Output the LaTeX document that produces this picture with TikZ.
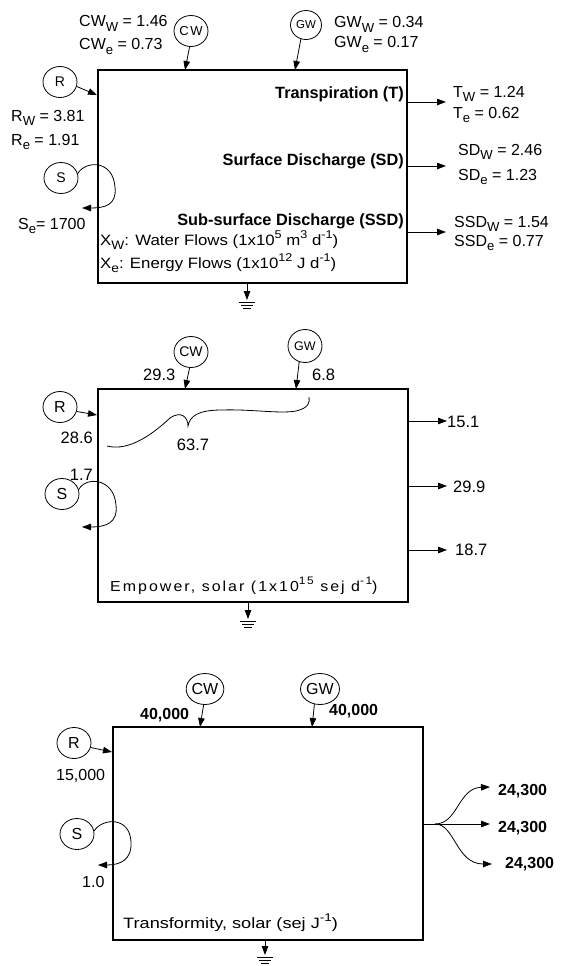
\documentclass[tikz,border=0pt]{standalone}
\usepackage{fontspec}
\usepackage{graphicx}
\setmainfont{Liberation Sans}
\newfontfamily\widefont{Liberation Sans}[FakeStretch=1.12]
\newfontfamily\trffont{Liberation Sans}[FakeStretch=1.21]
\newfontfamily\spacedfont{Liberation Sans}[LetterSpace=14,FakeStretch=1.1]
\usetikzlibrary{arrows.meta,shapes.geometric,calc}
\newcommand{\sbs}[1]{\raisebox{-0.55ex}{\scalebox{0.82}{#1}}}
\newcommand{\sps}[1]{\raisebox{0.8ex}{\scalebox{0.75}{#1}}}
\tikzset{
  src/.style={draw, ellipse, inner sep=0pt, minimum width=34pt, minimum height=31pt, line width=0.8pt, font=\fontsize{14}{14}\selectfont},
  lbl/.style={inner sep=0pt, anchor=base west, font=\fontsize{16}{16}\selectfont},
  head/.style={inner sep=0pt, anchor=base east, font=\fontsize{16.3}{16}\selectfont\bfseries},
  numtwo/.style={inner sep=0pt, anchor=base west, font=\fontsize{16.5}{16}\selectfont},
  numthree/.style={inner sep=0pt, anchor=base west, font=\fontsize{16}{16}\selectfont\bfseries},
  arr/.style={-{Triangle[length=9pt,width=6.5pt]}, line width=0.8pt},
  boxthin/.style={draw, inner sep=0pt, line width=1.1pt},
  boxthick/.style={draw, inner sep=0pt, line width=2.4pt},
}
\begin{document}
\begin{tikzpicture}[x=1pt,y=-1pt]
\useasboundingbox (0,0) rectangle (568,966);

% ================= Panel 1 =================
\node[boxthin, minimum width=309pt, minimum height=213pt] (b1) at (252.5,176.5) {};
\node[src, font=\fontsize{13}{13}\selectfont] (cw1) at (191,31) {C\kern1.5pt W};
\node[src, minimum width=31pt, minimum height=29pt, font=\fontsize{11.5}{11.5}\selectfont] (gw1) at (306,25) {GW};
\node[src] (r1) at (60,82) {R};
\node[src] (s1) at (61,178) {S};

\coordinate (b1cw) at (185,70);
\coordinate (b1gw) at (295,70);
\coordinate (b1r) at (97,95);
\coordinate (s1tip) at (82,208);
\draw[arr] (cw1.265) -- (b1cw);
\draw[arr] (gw1.250) -- (b1gw);
\draw[arr] (r1.-15) -- (b1r);
\draw[arr] (s1.15) .. controls (86,160) and (113,160) .. (115,187)
  .. controls (117,205) and (105,208) .. (s1tip);

\node[lbl] (cwl1) at (79,27) {CW\sbs{W} = 1.46};
\node[lbl] (cwl2) at (79,50) {CW\sbs{e} = 0.73};
\node[lbl] (gwl1) at (334,28) {GW\sbs{W} = 0.34};
\node[lbl] (gwl2) at (334,48) {GW\sbs{e} = 0.17};
\node[lbl] (rl1) at (11,121) {R\sbs{W} = 3.81};
\node[lbl] (rl2) at (11,145) {R\sbs{e} = 1.91};
\node[lbl] (sl1) at (18,229) {S\sbs{e}= 1700};

\node[head] (hT) at (404,99) {Transpiration (T)};
\node[head] (hSD) at (404,165) {Surface Discharge (SD)};
\node[head] (hSSD) at (404,225) {Sub-surface Discharge (SSD)};
\node[lbl, font=\fontsize{15}{15}\widefont] (xw) at (100,245) {X\sbs{W}: Water Flows (1x10\sps{5} m\sps{3} d\sps{-1})};
\node[lbl, font=\fontsize{15}{15}\widefont] (xe) at (100,268) {X\sbs{e}: Energy Flows (1x10\sps{12} J d\sps{-1})};

\coordinate (b1o1) at (407,102);
\coordinate (b1o2) at (407,166);
\coordinate (b1o3) at (407,232);
\coordinate (o1e) at (446,102);
\coordinate (o2e) at (446,166);
\coordinate (o3e) at (446,232);
\draw[arr] (b1o1) -- (o1e);
\draw[arr] (b1o2) -- (o2e);
\draw[arr] (b1o3) -- (o3e);

\node[lbl] (tl1) at (453,97) {T\sbs{W} = 1.24};
\node[lbl] (tl2) at (453,118) {T\sbs{e} = 0.62};
\node[lbl] (sdl1) at (458,155) {SD\sbs{W} = 2.46};
\node[lbl] (sdl2) at (458,180) {SD\sbs{e} = 1.23};
\node[lbl] (ssdl1) at (454,227) {SSD\sbs{W} = 1.54};
\node[lbl] (ssdl2) at (454,246) {SSD\sbs{e} = 0.77};

\coordinate (g1a) at (247,283);
\coordinate (g1b) at (247,300);
\draw[arr] (g1a) -- (g1b);
\draw[line width=0.7pt] (239,302) -- (255,302) (241,305) -- (253,305) (243,308) -- (251,308);

% ================= Panel 2 =================
\node[boxthick, minimum width=310pt, minimum height=213pt] (b2) at (253,495.5) {};
\node[src] (cw2) at (191,352) {CW};
\node[src, minimum width=34pt, minimum height=33pt, font=\fontsize{12.5}{12.5}\selectfont] (gw2) at (305,346) {GW};
\node[src, font=\fontsize{16}{16}\selectfont] (r2) at (60,407) {R};
\node[src, font=\fontsize{16}{16}\selectfont] (s2) at (62,494) {S};

\coordinate (b2cw) at (185,389);
\coordinate (b2gw) at (296,389);
\coordinate (b2r) at (97,415);
\coordinate (s2tip) at (82,527);
\draw[arr] (cw2.265) -- (b2cw);
\draw[arr] (gw2.250) -- (b2gw);
\draw[arr] (r2.-15) -- (b2r);
\draw[arr] (s2.15) .. controls (86,476) and (114,478) .. (116,505)
  .. controls (118,523) and (106,527) .. (s2tip);

\node[numtwo] (n293) at (143,380) {29.3};
\node[numtwo] (n68) at (312,380) {6.8};
\node[numtwo, anchor=base east] (n286) at (93,443) {28.6};
\node[numtwo, anchor=base east] (n17) at (93,480) {1.7};
\node[numtwo, anchor=base] (n637) at (193,450) {63.7};

\draw[line width=0.8pt] (107,446) .. controls (130,452) and (155,432) .. (170,418)
  .. controls (182,410) and (188,418) .. (188,426)
  .. controls (190,416) and (198,410) .. (222,410)
  .. controls (250,409) and (280,414) .. (296,411)
  .. controls (309,408) and (310,402) .. (309,397);

\coordinate (b2o1) at (408,421);
\coordinate (b2o2) at (408,486);
\coordinate (b2o3) at (408,550);
\coordinate (p1e) at (447,421);
\coordinate (p2e) at (447,486);
\coordinate (p3e) at (447,550);
\draw[arr] (b2o1) -- (p1e);
\draw[arr] (b2o2) -- (p2e);
\draw[arr] (b2o3) -- (p3e);
\node[numtwo] (n151) at (447,427) {15.1};
\node[numtwo] (n299) at (453,492) {29.9};
\node[numtwo] (n187) at (455,555) {18.7};

\node[lbl, font=\fontsize{14.5}{14.5}\spacedfont] (emp) at (110,591) {Empower, solar (1x10\sps{15} sej d\sps{-1})};

\coordinate (g2a) at (248,602);
\coordinate (g2b) at (248,619);
\draw[arr] (g2a) -- (g2b);
\draw[line width=0.7pt] (240,621) -- (256,621) (242,624) -- (254,624) (244,627) -- (252,627);

% ================= Panel 3 =================
\node[boxthin, minimum width=310pt, minimum height=213pt] (b3) at (268,833.5) {};
\node[src, font=\fontsize{16}{16}\selectfont] (cw3) at (205,689) {CW};
\node[src, font=\fontsize{16}{16}\selectfont] (gw3) at (320,689) {GW};
\node[src, font=\fontsize{16}{16}\selectfont] (r3) at (74,743) {R};
\node[src, font=\fontsize{16}{16}\selectfont] (s3) at (77,834) {S};

\coordinate (b3cw) at (200,727);
\coordinate (b3gw) at (312,727);
\coordinate (b3r) at (112,752);
\coordinate (s3tip) at (98,865);
\draw[arr] (cw3.265) -- (b3cw);
\draw[arr] (gw3.250) -- (b3gw);
\draw[arr] (r3.-15) -- (b3r);
\draw[arr] (s3.10) .. controls (102,818) and (130,816) .. (131,842)
  .. controls (132,860) and (120,865) .. (s3tip);

\node[numthree] (n40a) at (140,719) {40,000};
\node[numthree] (n40b) at (329,715) {40,000};
\node[numtwo, font=\fontsize{16}{16}\selectfont] (n15k) at (56,780) {15,000};
\node[numtwo, font=\fontsize{16}{16}\selectfont] (n10) at (82,887) {1.0};
\node[lbl, font=\fontsize{15}{15}\trffont] (trf) at (123,928) {Transformity, solar (sej J\sps{-1})};

\coordinate (b3o) at (423,824);
\coordinate (sp) at (435,824);
\coordinate (q1e) at (490,787);
\coordinate (q2e) at (490,824);
\coordinate (q3e) at (492,864);
\draw[line width=0.8pt] (b3o) -- (sp);
\draw[arr] (sp) .. controls (458,824) and (458,788) .. (q1e);
\draw[arr] (sp) -- (q2e);
\draw[arr] (sp) .. controls (455,824) and (456,864) .. (q3e);
\node[numthree] (n243a) at (498,795) {24,300};
\node[numthree] (n243b) at (498,832) {24,300};
\node[numthree] (n243c) at (505,868) {24,300};

\coordinate (g3a) at (265,940);
\coordinate (g3b) at (265,955);
\draw[arr] (g3a) -- (g3b);
\draw[line width=0.7pt] (257,957) -- (273,957) (259,960) -- (271,960) (261,963) -- (269,963);
\end{tikzpicture}
\end{document}
